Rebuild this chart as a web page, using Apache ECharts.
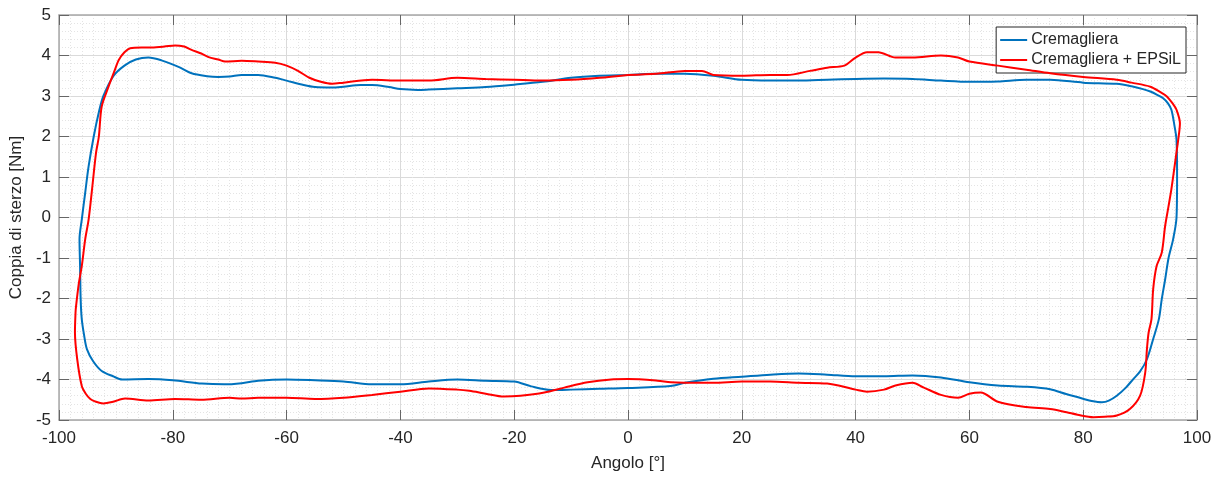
<!DOCTYPE html>
<html>
<head>
<meta charset="utf-8">
<script src="https://cdn.jsdelivr.net/npm/echarts@6/dist/echarts.min.js"></script>
<style>
  html, body { margin: 0; padding: 0; background: #fff; }
  #chart { width: 1220px; height: 477px; }
</style>
</head>
<body>
<div id="chart"></div>
<script>
// Cremagliera: closed loop, top branch left->right, then bottom branch right->left
const blueAngle = [
  -93.9, -93.0, -92.2, -90.4, -88.5, -86.5, -84.3, -82, -79, -76.7, -74, -72, -70, -67.9, -65, -62, -60, -57, -55, -52,
  -50, -47, -45, -42, -40, -37, -35, -30, -25, -20, -15, -10, -5, 0, 5, 10, 15, 20, 25, 30,
  35, 40, 45, 50, 55, 60, 65, 70, 74.2, 80, 85.9, 88.5, 90.5, 91.8, 93, 94.0, 94.9, 95.5, 96.0, 96.4,
  96.5, 96.4, 95.8, 95.0, 94.4, 93.8, 93.3, 92.3, 91.2, 90.0, 88.8, 87.5, 85.9, 84.5, 83.3, 81.5, 80.1, 77, 74.2, 70,
  65, 60, 55, 50, 45, 40, 35, 30, 25, 20, 15, 10, 7.5, 0, -5, -10, -13.5, -17, -20, -25,
  -30, -35, -40, -45, -50, -55, -60, -65, -67.9, -71, -74.9, -80, -84.3, -88.9, -90.5, -92.5, -94, -95.1, -95.6, -96.0,
  -96.2, -96.3, -96.4, -96.0, -95.4, -94.8
];
const blueTorque = [
  2.0, 2.6, 3.0, 3.5, 3.75, 3.9, 3.95, 3.88, 3.72, 3.56, 3.49, 3.47, 3.48, 3.52, 3.52, 3.45, 3.38, 3.27, 3.22, 3.21,
  3.23, 3.27, 3.27, 3.22, 3.17, 3.15, 3.16, 3.19, 3.22, 3.28, 3.35, 3.45, 3.5, 3.52, 3.55, 3.55, 3.5, 3.4, 3.38, 3.38,
  3.4, 3.42, 3.43, 3.42, 3.38, 3.35, 3.36, 3.4, 3.4, 3.33, 3.30, 3.24, 3.17, 3.11, 3.03, 2.95, 2.82, 2.66, 2.3, 1.92,
  1.0, 0, -0.54, -1.0, -1.53, -2.02, -2.51, -3.0, -3.5, -3.8, -3.99, -4.2, -4.40, -4.52, -4.56, -4.53, -4.48, -4.36, -4.24, -4.18,
  -4.15, -4.07, -3.95, -3.9, -3.92, -3.92, -3.88, -3.85, -3.88, -3.93, -3.98, -4.08, -4.16, -4.21, -4.23, -4.25, -4.26, -4.17, -4.05, -4.03,
  -4.0, -4.05, -4.12, -4.12, -4.05, -4.02, -4.0, -4.03, -4.09, -4.12, -4.1, -4.02, -3.99, -4.0, -3.92, -3.79, -3.55, -3.25, -2.9, -2.51,
  -2.0, -1.2, -0.54, -0.05, 0.61, 1.26
];

// Cremagliera + EPSiL
const redAngle = [
  -93.0, -92.5, -91.3, -90.3, -89.5, -88.5, -87.5, -85.5, -83.7, -81.5, -79.6, -78, -76.7, -75, -73.7, -72, -70.8, -67.9, -65, -62,
  -60, -58, -56, -54, -52, -50, -45, -40, -35, -30, -25, -20, -15, -10, -5, 0, 5, 10, 13, 15,
  20, 25, 28, 32, 35, 38, 40, 42, 44, 47, 50, 55, 58, 60, 65, 70, 74.2, 80, 85.9, 88.5,
  91.8, 93.5, 94.7, 95.8, 96.4, 97.0, 96.7, 96.3, 96.0, 95.5, 95.0, 94.4, 93.8, 92.9, 92.3, 92.0, 91.5, 91.2, 90.9, 90.0,
  88.2, 85.9, 83.8, 81.8, 79, 77.1, 74.2, 70, 65, 62, 60, 58, 55, 52, 50, 47, 45, 42, 40, 35,
  30, 25, 20, 15, 10, 7.5, 5.2, 0, -3, -7.1, -11.2, -14.7, -18.9, -21.8, -25, -27.9, -30, -35, -40, -45,
  -50, -55, -60, -65, -67.9, -70, -75, -79.6, -84.3, -88.4, -90.5, -92.2, -93.5, -94.5, -95.3, -96.0, -96.8, -97.2, -97.1, -97.0,
  -96.5, -96.0, -95.4, -94.8, -94.2, -93.5
];
const redTorque = [
  2.0, 2.74, 3.23, 3.6, 3.89, 4.08, 4.18, 4.2, 4.2, 4.22, 4.25, 4.22, 4.14, 4.05, 3.96, 3.9, 3.85, 3.87, 3.85, 3.82,
  3.75, 3.62, 3.45, 3.35, 3.3, 3.33, 3.4, 3.38, 3.38, 3.45, 3.42, 3.4, 3.38, 3.4, 3.45, 3.52, 3.55, 3.62, 3.62, 3.52,
  3.5, 3.52, 3.52, 3.62, 3.7, 3.75, 3.95, 4.08, 4.08, 3.95, 3.95, 4.0, 3.95, 3.85, 3.75, 3.65, 3.56, 3.47, 3.40, 3.33,
  3.23, 3.1, 2.99, 2.8, 2.66, 2.33, 1.92, 1.51, 1.2, 0.7, 0.28, -0.21, -0.87, -1.2, -1.77, -2.51, -2.84, -3.25, -3.83, -4.40,
  -4.73, -4.89, -4.92, -4.93, -4.87, -4.81, -4.73, -4.68, -4.55, -4.32, -4.35, -4.45, -4.38, -4.2, -4.08, -4.15, -4.25, -4.3, -4.25, -4.1,
  -4.08, -4.05, -4.05, -4.08, -4.08, -4.07, -4.03, -3.99, -4.0, -4.07, -4.2, -4.32, -4.40, -4.42, -4.35, -4.28, -4.25, -4.22, -4.3, -4.38,
  -4.45, -4.48, -4.45, -4.45, -4.47, -4.45, -4.5, -4.48, -4.52, -4.47, -4.55, -4.59, -4.55, -4.48, -4.35, -4.16, -3.50, -2.84, -2.35, -2.18,
  -1.61, -1.2, -0.54, -0.05, 0.69, 1.59
];

const seriesNames = ['Cremagliera', 'Cremagliera + EPSiL'];
const xTicks = { min: -100, max: 100, step: 20 };
const yTicks = { min: -5, max: 5, step: 1 };

// pair up the readings and start the closed loop in the middle of the top branch,
// so the smoothing has no seam on the steep left side
function loop(xs, ys) {
  const pts = xs.map((v, i) => [v, ys[i]]);
  const start = xs.findIndex(v => v >= 0);
  const out = pts.slice(start).concat(pts.slice(0, start));
  out.push(out[0]);
  return out;
}
const font = 'Arial, "Liberation Sans", sans-serif';

const majorLine = { show: true, lineStyle: { color: '#dadada', width: 1 } };
const minorLine = { show: true, lineStyle: { color: '#e4e4e4', width: 1, type: [1, 2] } };
const boxLine = { show: true, onZero: false, lineStyle: { color: '#a8a8a8', width: 1.5 } };
const tick = { show: true, inside: true, length: 10, lineStyle: { color: '#666' } };

const chart = echarts.init(document.getElementById('chart'), null, { renderer: 'canvas' });
chart.setOption({
  backgroundColor: '#fff',
  animation: false,
  grid: { left: 57, right: 23, top: 15, bottom: 55 },
  legend: {
    orient: 'vertical',
    right: 34,
    top: 27,
    data: seriesNames,
    icon: 'rect',
    itemWidth: 27,
    itemHeight: 2,
    itemGap: 4,
    padding: [5, 5, 5, 4],
    borderColor: '#262626',
    borderWidth: 1,
    backgroundColor: '#fff',
    textStyle: { fontFamily: font, fontSize: 16, lineHeight: 16, color: '#262626', padding: [0, 0, 0, -1] }
  },
  xAxis: [{
    type: 'value',
    min: xTicks.min, max: xTicks.max, interval: xTicks.step,
    name: 'Angolo [°]', nameLocation: 'middle', nameGap: 35,
    nameTextStyle: { fontFamily: font, fontSize: 17, color: '#262626' },
    axisLine: boxLine,
    axisTick: tick,
    axisLabel: { fontFamily: font, fontSize: 17, color: '#262626', margin: 10 },
    splitLine: majorLine,
    minorTick: { show: false, splitNumber: 10 },
    minorSplitLine: minorLine
  }, {
    type: 'value', position: 'top',
    min: xTicks.min, max: xTicks.max, interval: xTicks.step,
    axisLine: boxLine, axisTick: tick, axisLabel: { show: false }, splitLine: { show: false }
  }],
  yAxis: [{
    type: 'value',
    min: yTicks.min, max: yTicks.max, interval: yTicks.step,
    name: 'Coppia di sterzo [Nm]', nameLocation: 'middle', nameGap: 27,
    nameTextStyle: { fontFamily: font, fontSize: 17, color: '#262626' },
    axisLine: boxLine,
    axisTick: tick,
    axisLabel: { fontFamily: font, fontSize: 17, color: '#262626', margin: 8 },
    splitLine: majorLine,
    minorTick: { show: false, splitNumber: 5 },
    minorSplitLine: minorLine
  }, {
    type: 'value', position: 'right',
    min: yTicks.min, max: yTicks.max, interval: yTicks.step,
    axisLine: boxLine, axisTick: tick, axisLabel: { show: false }, splitLine: { show: false }
  }],
  series: [{
    name: seriesNames[0],
    type: 'line',
    data: loop(blueAngle, blueTorque),
    symbol: 'none',
    smooth: 0.3,
    lineStyle: { color: '#0072BD', width: 2 },
    itemStyle: { color: '#0072BD' },
    z: 3
  }, {
    name: seriesNames[1],
    type: 'line',
    data: loop(redAngle, redTorque),
    symbol: 'none',
    smooth: 0.3,
    lineStyle: { color: '#FF0000', width: 2 },
    itemStyle: { color: '#FF0000' },
    z: 4
  }]
});
</script>
</body>
</html>
